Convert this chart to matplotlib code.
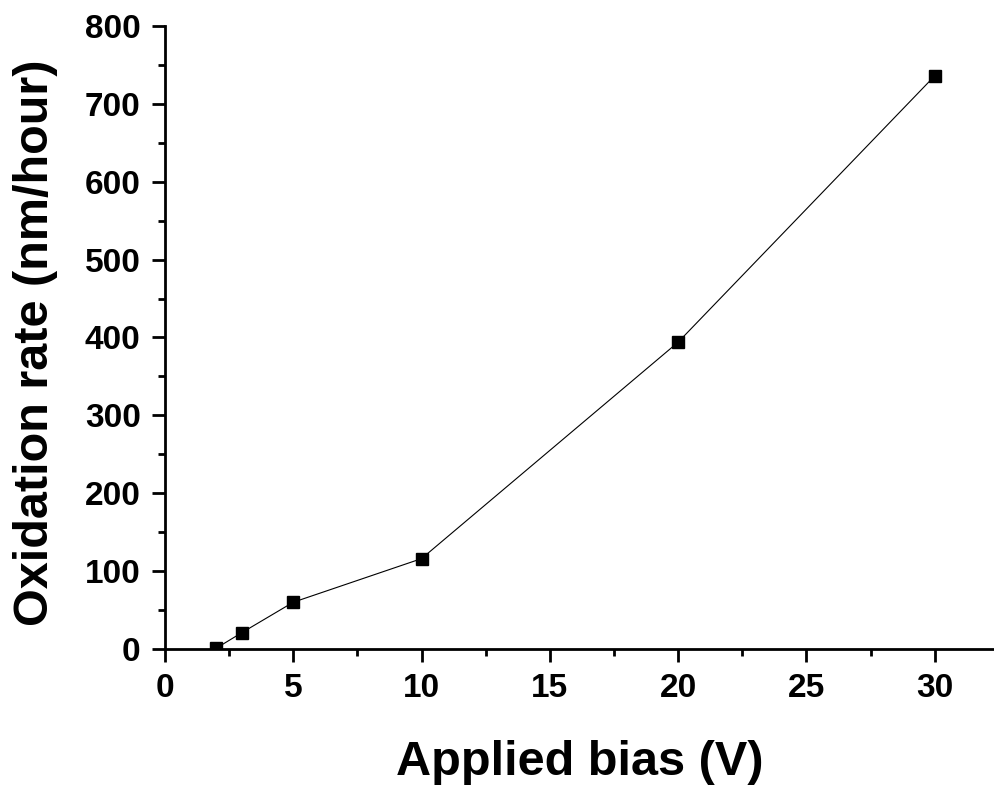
import matplotlib.pyplot as plt
from matplotlib.ticker import MultipleLocator

plt.rcParams['font.family'] = ['Liberation Sans', 'DejaVu Sans']
plt.rcParams['font.weight'] = 'bold'

# applied bias (V) vs oxidation rate (nm/hour)
bias = [2, 3, 5, 10, 20, 30]
rate = [1, 21, 60, 116, 394, 736]

fig = plt.figure(figsize=(9.95, 7.89), dpi=100)
ax = fig.add_axes([0.1658, 0.1775, 0.8342, 0.7895])

ax.plot(bias, rate, color='black', linewidth=0.8, marker='s', markersize=9,
        markerfacecolor='black', markeredgecolor='black')

ax.set_xlim(0, 32.35)
ax.set_ylim(0, 800)
ax.xaxis.set_major_locator(MultipleLocator(5))
ax.xaxis.set_minor_locator(MultipleLocator(2.5))
ax.yaxis.set_major_locator(MultipleLocator(100))
ax.yaxis.set_minor_locator(MultipleLocator(50))

for side in ['top', 'right']:
    ax.spines[side].set_visible(False)
for side in ['left', 'bottom']:
    ax.spines[side].set_linewidth(2)

ax.tick_params(which='major', direction='out', length=9.5, width=2, labelsize=24, pad=8)
ax.tick_params(which='minor', direction='out', length=5, width=2)
for lbl in ax.get_xticklabels() + ax.get_yticklabels():
    lbl.set_fontweight('bold')

ax.set_xlabel('Applied bias (V)', fontsize=35, fontweight='bold', labelpad=26)
ax.set_ylabel('Oxidation rate (nm/hour)', fontsize=35, fontweight='bold')
ax.yaxis.set_label_coords(-0.129, 0.491)

fig.savefig('out.png', dpi=100)
